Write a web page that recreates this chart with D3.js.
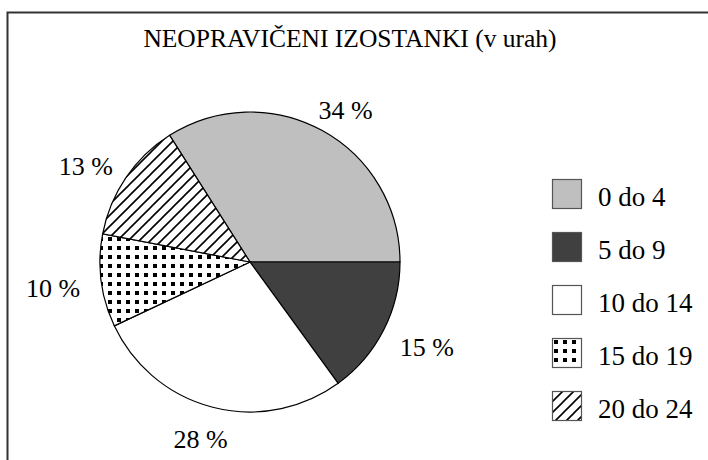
<!DOCTYPE html>
<html>
  <head>
    <meta charset="utf-8">
    <script src="https://cdn.jsdelivr.net/npm/d3@7"></script>
    <style>
      body { margin: 0; background: #fff; }
    </style>
  </head>
  <body>
    <svg id="chart"></svg>
    <script>

    var width = 708
    var height = 460
    var font = "'Liberation Serif', serif"

    // data
    var title = "NEOPRAVIČENI IZOSTANKI (v urah)"
    var categories = ["0 do 4", "5 do 9", "10 do 14", "15 do 19", "20 do 24"]
    var values = [34, 15, 28, 10, 13]
    var fills = ["#bfbfbf", "#404040", "#ffffff", "url(#dots)", "url(#hatch)"]

    var cx = 250, cy = 262, r = 150

    var svg = d3.select("#chart")
      .attr("width", width)
      .attr("height", height)

    var defs = svg.append("defs")

    var dots = defs.append("pattern")
      .attr("id", "dots")
      .attr("patternUnits", "userSpaceOnUse")
      .attr("width", 9).attr("height", 9)
    dots.append("rect").attr("width", 9).attr("height", 9).attr("fill", "#fff")
    dots.append("rect").attr("x", 2).attr("y", 2).attr("width", 4).attr("height", 4).attr("fill", "#000")

    var hatch = defs.append("pattern")
      .attr("id", "hatch")
      .attr("patternUnits", "userSpaceOnUse")
      .attr("width", 11).attr("height", 11)
    hatch.append("rect").attr("width", 11).attr("height", 11).attr("fill", "#fff")
    hatch.append("path")
      .attr("d", "M-2,2 L2,-2 M0,11 L11,0 M9,13 L13,9")
      .attr("stroke", "#000")
      .attr("stroke-width", 1.6)

    // frame: top and left rules only
    svg.append("path")
      .attr("d", "M7.5,460 V12.5 H708")
      .attr("fill", "none")
      .attr("stroke", "#333")
      .attr("stroke-width", 2)

    svg.append("text")
      .attr("x", 350)
      .attr("y", 47)
      .attr("text-anchor", "middle")
      .style("font-family", font)
      .style("font-size", "25.5px")
      .text(title)

    // slices run clockwise so that the first one ends at 3 o'clock
    var total = d3.sum(values)
    var start = Math.PI / 2 - 2 * Math.PI * values[0] / total

    var pie = d3.pie()
      .sort(null)
      .value(function(d) { return d })
      .startAngle(start)
      .endAngle(start + 2 * Math.PI)

    var arcs = pie(values)

    var arc = d3.arc().innerRadius(0).outerRadius(r)

    var g = svg.append("g").attr("transform", "translate(" + cx + "," + cy + ")")

    g.selectAll("path")
      .data(arcs)
      .enter().append("path")
      .attr("d", arc)
      .attr("fill", function(d, i) { return fills[i] })
      .attr("stroke", "#000")
      .attr("stroke-width", 1.2)

    var lr = r * 1.19
    g.selectAll("text")
      .data(arcs)
      .enter().append("text")
      .attr("x", function(d) {
        var a = (d.startAngle + d.endAngle) / 2
        return (lr + 20) * Math.sin(a)
      })
      .attr("y", function(d) {
        var a = (d.startAngle + d.endAngle) / 2
        return -lr * Math.cos(a) + 4
      })
      .attr("dy", "0.35em")
      .attr("text-anchor", "middle")
      .style("font-family", font)
      .style("font-size", "26px")
      .text(function(d) { return d.data + " %" })

    // legend
    var ly = d3.scaleBand()
      .domain(categories)
      .range([179, 444])

    var legend = svg.append("g").selectAll("g")
      .data(categories)
      .enter().append("g")
      .attr("transform", function(d) { return "translate(552," + ly(d) + ")" })

    legend.append("rect")
      .attr("x", 0.5).attr("y", 0.5)
      .attr("width", 29).attr("height", 29)
      .attr("fill", function(d, i) { return fills[i] })
      .attr("stroke", "#555")
      .attr("stroke-width", 1.2)

    legend.append("text")
      .attr("x", 46)
      .attr("y", 27)
      .style("font-family", font)
      .style("font-size", "27px")
      .text(function(d) { return d })

    </script>
  </body>
</html>
